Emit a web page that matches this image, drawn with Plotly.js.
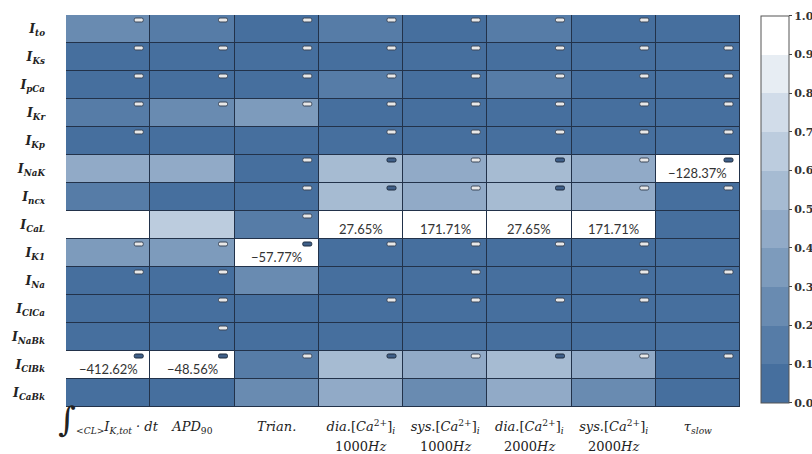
<!DOCTYPE html>
<html>
<head>
<meta charset="utf-8">
<script src="https://cdn.plot.ly/plotly-3.0.1.min.js"></script>
<style>
  html, body { margin: 0; padding: 0; background: #fff; }
  #chart { width: 812px; height: 454px; }
</style>
</head>
<body>
<div id="chart"></div>
<script>
// Ion currents (rows, top to bottom)
const currents = [
  'I<sub>to</sub>', 'I<sub>Ks</sub>', 'I<sub>pCa</sub>', 'I<sub>Kr</sub>', 'I<sub>Kp</sub>',
  'I<sub>NaK</sub>', 'I<sub>ncx</sub>', 'I<sub>CaL</sub>', 'I<sub>K1</sub>', 'I<sub>Na</sub>',
  'I<sub>ClCa</sub>', 'I<sub>NaBk</sub>', 'I<sub>ClBk</sub>', 'I<sub>CaBk</sub>'
];

// Biomarkers (columns), first and second label line
const up = s => '<span style="font-style:normal">' + s + '</span>';
const biomarkersTop = [
  '<span style="font-size:34px;font-style:normal">∫</span><sub>&lt;CL&gt;</sub>I<sub>K,tot</sub> · dt',
  'APD<sub>' + up('90') + '</sub>',
  'Trian.',
  'dia.' + up('[') + 'Ca<sup>' + up('2+') + '</sup>' + up(']') + '<sub>i</sub>',
  'sys.' + up('[') + 'Ca<sup>' + up('2+') + '</sup>' + up(']') + '<sub>i</sub>',
  'dia.' + up('[') + 'Ca<sup>' + up('2+') + '</sup>' + up(']') + '<sub>i</sub>',
  'sys.' + up('[') + 'Ca<sup>' + up('2+') + '</sup>' + up(']') + '<sub>i</sub>',
  'τ<sub>slow</sub>'
];
const biomarkersBottom = ['', '', '', up('1000') + 'Hz', up('1000') + 'Hz', up('2000') + 'Hz', up('2000') + 'Hz', ''];

// Normalised sensitivity per current (row) and biomarker (column)
const sensitivity = [
  [0.25, 0.15, 0.05, 0.15, 0.05, 0.15, 0.05, 0.05], // I_to
  [0.05, 0.05, 0.05, 0.05, 0.05, 0.05, 0.05, 0.05], // I_Ks
  [0.05, 0.05, 0.05, 0.15, 0.05, 0.15, 0.05, 0.05], // I_pCa
  [0.15, 0.25, 0.35, 0.05, 0.05, 0.05, 0.05, 0.05], // I_Kr
  [0.05, 0.05, 0.05, 0.05, 0.05, 0.05, 0.05, 0.05], // I_Kp
  [0.45, 0.45, 0.05, 0.55, 0.45, 0.55, 0.45, 1.00], // I_NaK
  [0.15, 0.05, 0.05, 0.55, 0.45, 0.55, 0.45, 0.05], // I_ncx
  [1.00, 0.65, 0.15, 1.00, 1.00, 1.00, 1.00, 0.05], // I_CaL
  [0.35, 0.35, 1.00, 0.05, 0.05, 0.05, 0.05, 0.05], // I_K1
  [0.05, 0.05, 0.25, 0.05, 0.05, 0.05, 0.05, 0.05], // I_Na
  [0.05, 0.05, 0.05, 0.05, 0.05, 0.05, 0.05, 0.05], // I_ClCa
  [0.05, 0.05, 0.05, 0.05, 0.05, 0.05, 0.05, 0.05], // I_NaBk
  [1.00, 1.00, 0.15, 0.55, 0.45, 0.55, 0.45, 0.05], // I_ClBk
  [0.05, 0.05, 0.25, 0.45, 0.25, 0.45, 0.25, 0.05]  // I_CaBk
];

// Relative change printed in saturated cells
const changeLabels = [
  ['', '', '', '', '', '', '', ''],
  ['', '', '', '', '', '', '', ''],
  ['', '', '', '', '', '', '', ''],
  ['', '', '', '', '', '', '', ''],
  ['', '', '', '', '', '', '', ''],
  ['', '', '', '', '', '', '', '−128.37%'],
  ['', '', '', '', '', '', '', ''],
  ['', '', '', '27.65%', '171.71%', '27.65%', '171.71%', ''],
  ['', '', '−57.77%', '', '', '', '', ''],
  ['', '', '', '', '', '', '', ''],
  ['', '', '', '', '', '', '', ''],
  ['', '', '', '', '', '', '', ''],
  ['−412.62%', '−48.56%', '', '', '', '', '', ''],
  ['', '', '', '', '', '', '', '']
];

// Sign flag per cell: 0 none, 1 light badge, 2 dark badge
const signFlag = [
  [1, 1, 1, 1, 1, 1, 1, 0],
  [1, 1, 1, 1, 1, 1, 1, 1],
  [1, 1, 1, 1, 1, 1, 1, 1],
  [1, 1, 1, 1, 1, 1, 1, 1],
  [1, 0, 0, 1, 1, 1, 1, 1],
  [0, 0, 1, 2, 1, 2, 1, 2],
  [0, 0, 1, 2, 1, 2, 1, 1],
  [0, 0, 1, 0, 0, 0, 0, 0],
  [1, 1, 2, 1, 1, 1, 1, 0],
  [1, 1, 0, 0, 1, 0, 1, 1],
  [0, 1, 0, 1, 1, 1, 1, 0],
  [0, 1, 0, 0, 0, 0, 0, 0],
  [2, 2, 1, 2, 1, 2, 1, 1],
  [0, 0, 0, 0, 0, 0, 0, 0]
];

// Colour bar
const levelColors = [
  'rgb(70,111,158)', 'rgb(86,124,167)', 'rgb(105,139,177)', 'rgb(125,155,188)',
  'rgb(145,170,199)', 'rgb(166,187,210)', 'rgb(188,204,222)', 'rgb(209,220,233)',
  'rgb(231,237,243)', 'rgb(255,255,255)'
];
const cbTicks = [0, 0.1, 0.2, 0.3, 0.4, 0.5, 0.6, 0.7, 0.8, 0.9, 1.0];

const colorscale = [];
levelColors.forEach((c, i) => {
  colorscale.push([i / levelColors.length, c]);
  colorscale.push([(i + 1) / levelColors.length, c]);
});

const rowIdx = currents.map((_, i) => i);
const colIdx = biomarkersTop.map((_, i) => i);

const heat = {
  type: 'heatmap',
  x: colIdx,
  y: rowIdx,
  z: sensitivity,
  zmin: 0,
  zmax: 1,
  colorscale: colorscale,
  xgap: 1,
  ygap: 1,
  hoverinfo: 'skip',
  colorbar: {
    xref: 'paper', x: 1.031, xanchor: 'left', xpad: 0,
    yref: 'paper', y: 0.998, yanchor: 'top', ypad: 0,
    len: 0.988, lenmode: 'fraction',
    thickness: 28,
    outlinecolor: '#555', outlinewidth: 1,
    ticks: 'outside', ticklen: 3, tickcolor: '#444', tickwidth: 1,
    tickvals: cbTicks,
    ticktext: cbTicks.map(v => v.toFixed(1)),
    tickfont: { family: 'DejaVu Serif', size: 11, color: '#333', weight: 'bold' }
  }
};

// Printed values inside saturated cells
const annotations = [];
changeLabels.forEach((row, r) => row.forEach((t, c) => {
  if (t) annotations.push({
    x: c, y: r, xref: 'x', yref: 'y', text: t, showarrow: false,
    yshift: -4, font: { family: 'Lato', size: 13, color: '#333' }
  });
}));
// Second line of the biomarker labels
biomarkersBottom.forEach((t, c) => {
  if (t) annotations.push({
    x: c, xref: 'x', y: 0, yref: 'paper', yanchor: 'middle', yshift: -39,
    text: t, showarrow: false,
    font: { family: 'DejaVu Serif', size: 13, color: '#222', style: 'italic' }
  });
});

// Sign badges in the top-right corner of each flagged cell
const badgePath = 'M -14.5,-3 L -8.5,-3 Q -7,-3 -7,-4.5 L -7,-5.5 Q -7,-7 -8.5,-7 L -14.5,-7 Q -16,-7 -16,-5.5 L -16,-4.5 Q -16,-3 -14.5,-3 Z';
const shapes = [];
signFlag.forEach((row, r) => row.forEach((f, c) => {
  if (!f) return;
  shapes.push({
    type: 'path', path: badgePath,
    xref: 'x', yref: 'y',
    xsizemode: 'pixel', ysizemode: 'pixel',
    xanchor: c + 0.5, yanchor: r - 0.5,
    fillcolor: f === 1 ? '#e8e8e8' : '#3f5f88',
    line: { color: f === 1 ? '#3a4658' : '#1d2b3e', width: 1 }
  });
}));

const layout = {
  width: 812,
  height: 454,
  margin: { l: 66, r: 72, t: 15, b: 47, autoexpand: false },
  paper_bgcolor: '#ffffff',
  plot_bgcolor: '#22324a',
  showlegend: false,
  xaxis: {
    tickvals: colIdx, ticktext: biomarkersTop,
    ticks: '', showgrid: false, zeroline: false, showline: false,
    range: [-0.5, colIdx.length - 0.5],
    ticklabelstandoff: 10,
    tickfont: { family: 'DejaVu Serif', size: 13, color: '#222', style: 'italic' }
  },
  yaxis: {
    tickvals: rowIdx, ticktext: currents,
    ticks: '', showgrid: false, zeroline: false, showline: false,
    range: [rowIdx.length - 0.5, -0.5],
    ticklabelstandoff: 20,
    tickfont: { family: 'DejaVu Serif', size: 12.5, color: '#222', style: 'italic', weight: 'bold' }
  },
  annotations: annotations,
  shapes: shapes
};

Plotly.newPlot('chart', [heat], layout, { staticPlot: true, displayModeBar: false });
</script>
</body>
</html>
